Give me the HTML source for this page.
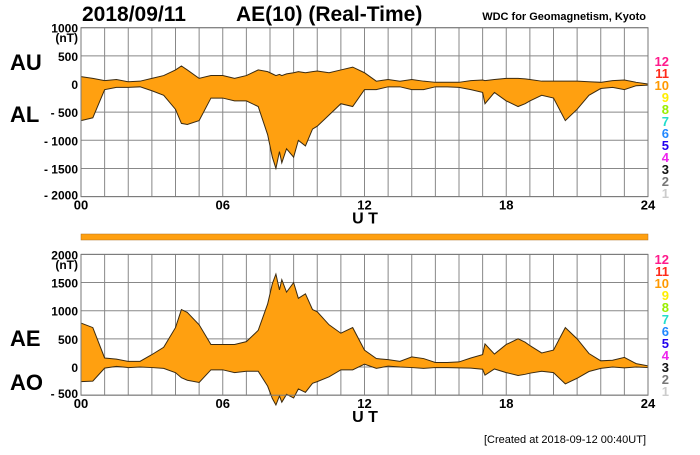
<!DOCTYPE html>
<html><head><meta charset="utf-8"><style>
body{margin:0;background:#fff;width:700px;height:450px;overflow:hidden}
svg{font-family:"Liberation Sans",Arial,sans-serif}
</style></head><body>
<svg id="c" width="700" height="450">
<text x="82" y="21" font-size="21" font-weight="bold">2018/09/11</text>
<text x="236" y="21" font-size="21" font-weight="bold">AE(10) (Real-Time)</text>
<text x="646" y="20" font-size="11" font-weight="bold" text-anchor="end">WDC for Geomagnetism, Kyoto</text>
<text x="10" y="70" font-size="22" font-weight="bold">AU</text>
<text x="10" y="122" font-size="22" font-weight="bold">AL</text>
<text x="10" y="346" font-size="22" font-weight="bold">AE</text>
<text x="10" y="390" font-size="22" font-weight="bold">AO</text>
<text x="646" y="443" font-size="11" text-anchor="end">[Created at 2018-09-12 00:40UT]</text>
<rect x="81" y="234" width="567" height="6" fill="#ffa010" stroke="#b07020" stroke-width="0.5"/>
<g id="top"></g>
<g id="bot"></g>
</svg>
<script>
const hours=[0,0.5,1,1.5,2,2.5,3,3.5,4,4.25,4.5,5,5.5,6,6.5,7,7.5,7.9,8.1,8.25,8.4,8.5,8.7,9,9.2,9.5,9.8,10,10.5,11,11.5,12,12.5,13,13.5,14,14.5,15,15.5,16,16.5,17,17.1,17.5,18,18.5,18.8,19,19.5,20,20.5,21,21.5,22,22.5,23,23.5,24];
const auValues=[130,100,60,80,40,50,100,150,250,320,250,100,150,150,100,150,250,220,180,150,170,150,180,200,220,200,220,230,200,250,300,200,50,80,50,80,50,30,30,30,60,70,60,80,100,100,90,80,50,50,50,50,40,30,60,70,30,0];
const alValues=[-650,-600,-100,-60,-60,-50,-120,-200,-450,-700,-720,-650,-250,-250,-300,-300,-400,-900,-1300,-1500,-1200,-1400,-1150,-1300,-1000,-1100,-800,-750,-550,-350,-400,-100,-100,-50,-50,-100,-100,-50,-50,-60,-100,-150,-350,-150,-300,-400,-350,-300,-200,-250,-650,-450,-200,-80,-60,-100,-30,-20];
const topTicks=[1000,500,0,-500,-1000,-1500,-2000];
const topTickLabels=["1000","500","0","- 500","- 1000","- 1500","- 2000"];
const botTicks=[2000,1500,1000,500,0,-500];
const botTickLabels=["2000","1500","1000","500","0","- 500"];
const xTicks=[0,6,12,18,24];
const xTickLabels=["00","06","12","18","24"];
const levels=["12","11","10","9","8","7","6","5","4","3","2","1"];
const levelColors=["#ff1a8c","#ff2a1a","#ff9900","#ffee00","#99ee00","#22ddcc","#2288ff","#2200ee","#ee22ee","#111","#777","#ccc"];
const NS="http://www.w3.org/2000/svg";
const X0=81,X1=648,PXH=(X1-X0)/24,K=0.0563;
const xs=t=>X0+t*PXH;
function mk(tag,attrs,parent){const e=document.createElementNS(NS,tag);for(const k in attrs)e.setAttribute(k,attrs[k]);parent.appendChild(e);return e;}
function panel(g,zeroY,yTop,yBot,ticks,labels,up,down,unitY,lvlY){
  const ys=v=>zeroY-v*K;
  for(let h=0;h<=24;h++){const l=mk('line',{x1:xs(h),x2:xs(h),y1:yTop,y2:yBot,stroke:'#888','stroke-width':1},g);
    
    }
  ticks.forEach((v,i)=>{const l=mk('line',{x1:X0,x2:X1,y1:ys(v),y2:ys(v),stroke:'#888','stroke-width':1},g);
    
    
    const t=mk('text',{x:X0-3,y:ys(v)+(i==ticks.length-1?3:5),'font-size':12,'font-weight':'bold','text-anchor':'end'},g);t.textContent=labels[i];
    
    });
  const u=mk('text',{x:X0-3,y:unitY,'font-size':12,'font-weight':'bold','text-anchor':'end'},g);u.textContent='(nT)';
  
  
  let d='M'+hours.map((h,i)=>xs(h)+','+ys(up[i])).join('L');
  for(let i=hours.length-1;i>=0;i--)d+='L'+xs(hours[i])+','+ys(down[i]);
  const a=mk('path',{d:d+'Z',fill:'#ffa010',stroke:'none'},g);
  
  
  [up,down].forEach(s=>{const p=mk('path',{d:'M'+hours.map((h,i)=>xs(h)+','+ys(s[i])).join('L'),fill:'none',stroke:'#3a2a10','stroke-width':1},g);
    
    });
  const b=mk('rect',{x:X0,y:yTop,width:X1-X0,height:yBot-yTop,fill:'none',stroke:'#777'},g);
  
  
  xTicks.forEach((h,i)=>{const t=mk('text',{x:xs(h),y:yBot+13,'font-size':13,'font-weight':'bold','text-anchor':'middle'},g);t.textContent=xTickLabels[i];
    
    });
  const ut=mk('text',{x:365,y:yBot+27,'font-size':16,'font-weight':'bold','text-anchor':'middle'},g);ut.textContent='U T';
  
  
  levels.forEach((s,i)=>{const t=mk('text',{x:669,y:lvlY+i*12,'font-size':13,'font-weight':'bold','text-anchor':'end',fill:levelColors[i]},g);t.textContent=s;
    
    });
}
const ae=auValues.map((v,i)=>v-alValues[i]);
const ao=auValues.map((v,i)=>(v+alValues[i])/2);
panel(document.getElementById('top'),84,27.7,196.6,topTicks,topTickLabels,auValues,alValues,42,66);
panel(document.getElementById('bot'),367,254.4,395.2,botTicks,botTickLabels,ae,ao,269,264);
</script>
</body></html>
